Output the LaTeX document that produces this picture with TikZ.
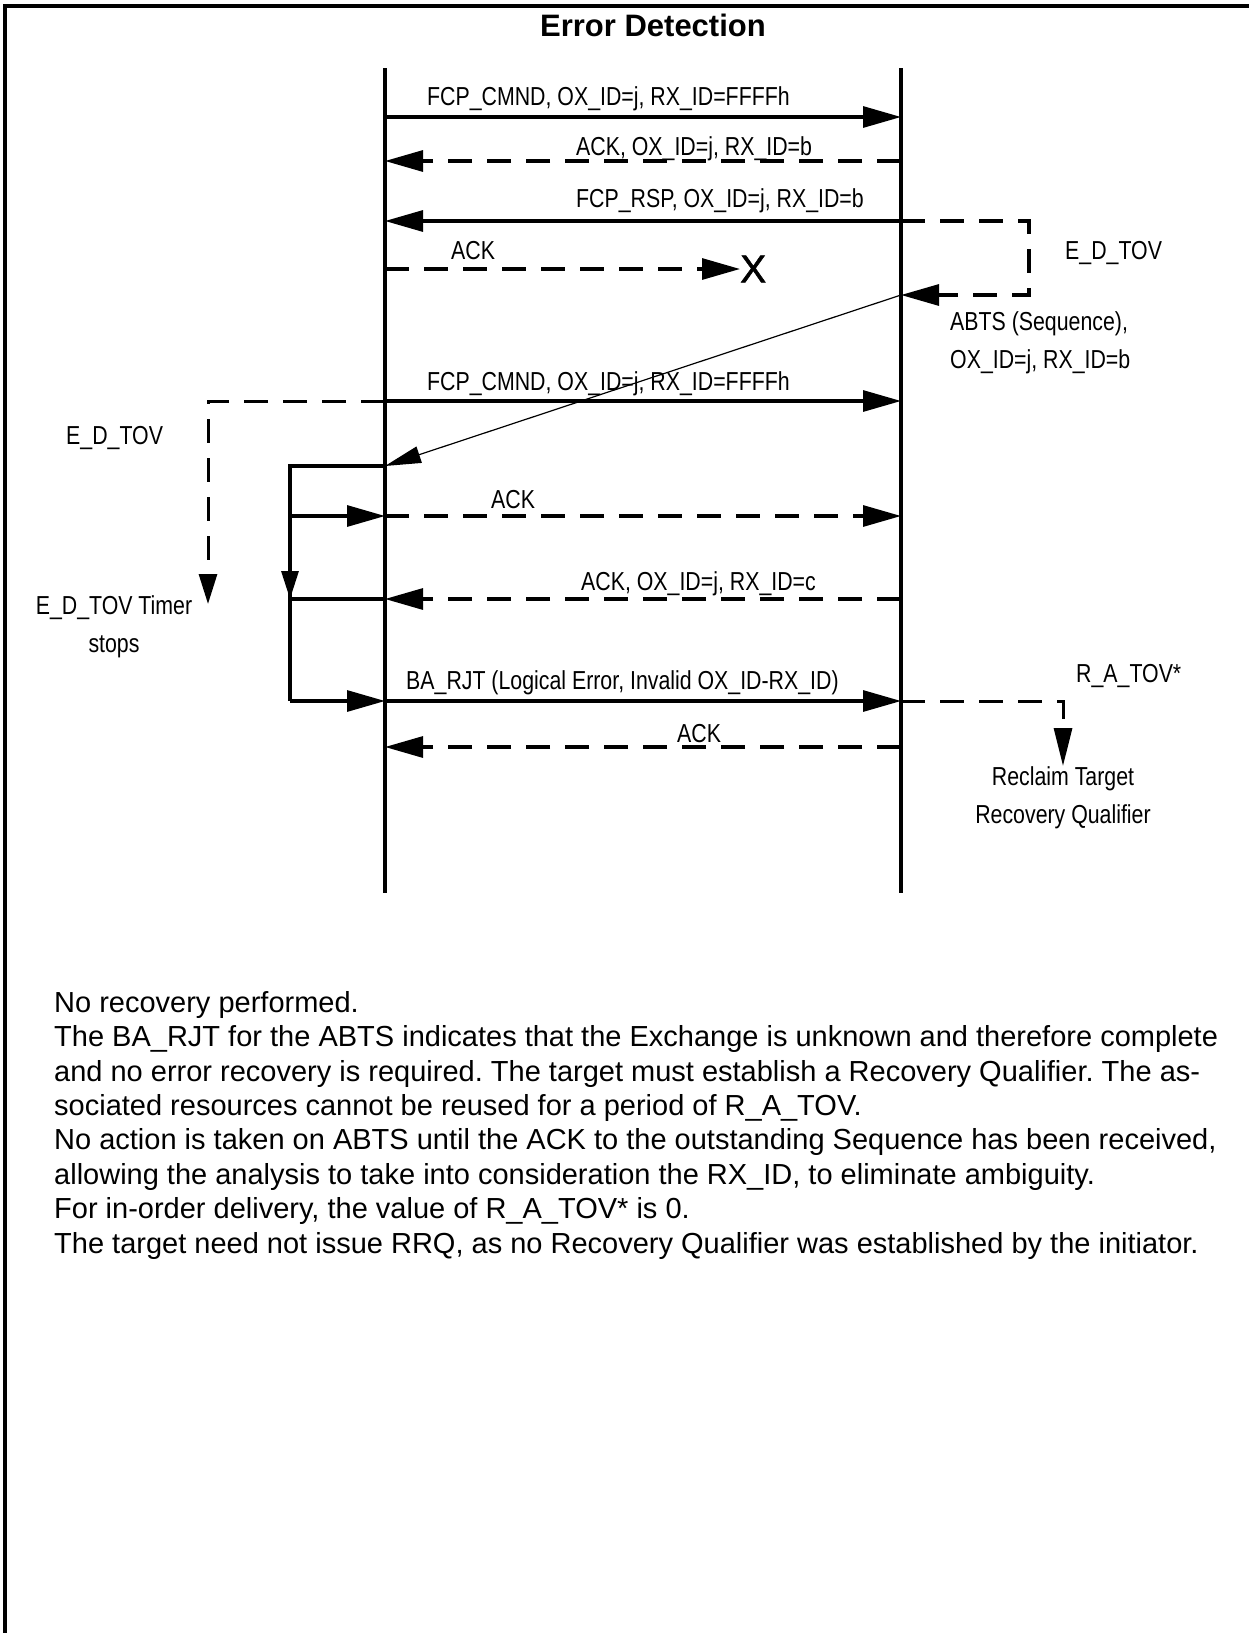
\documentclass[tikz,border=0pt]{standalone}
\usepackage{fontspec}
\setmainfont{Liberation Sans}
\newfontfamily\narrowsf[FakeStretch=0.82]{Liberation Sans}
\usepackage{tikz}
\usetikzlibrary{arrows.meta}
\frenchspacing

\begin{document}
\begin{tikzpicture}[
        x=1pt, y=-1pt,
        lifeline/.style={line width=3.1pt},
        msg/.style={line width=3.1pt, -{Triangle[length=38pt, width=21pt]}},
        ackmsg/.style={msg, dash pattern=on 24pt off 15pt},
        timer/.style={line width=3pt, dash pattern=on 24pt off 15pt, -{Triangle[length=32pt, width=18pt]}},
        lbl/.style={font=\narrowsf\fontsize{26}{38}\selectfont, inner sep=0pt, anchor=base west},
        note/.style={lbl, align=left, anchor=north west}
    ]
    \useasboundingbox (0,0) rectangle (1249,1633);

    % Cadre et titre
    \draw[line width=3.2pt] (5,1633) -- (5,6) -- (1249,6);
    \node[font=\bfseries\fontsize{31}{36}\selectfont, inner sep=0pt, anchor=base] (title) at (653,36) {Error Detection};

    % Lignes de vie : initiateur et cible
    \coordinate (ini-top) at (385,68);
    \coordinate (ini-bot) at (385,893);
    \coordinate (tgt-top) at (901,68);
    \coordinate (tgt-bot) at (901,893);
    \draw[lifeline] (ini-top) -- (ini-bot);
    \draw[lifeline] (tgt-top) -- (tgt-bot);

    % Points d'echange sur les deux lignes
    \foreach \n/\y in {cmd/117, ackb/161, rsp/221, ackx/269, cmd2/401, abts/466, ack/516, ackc/599, rjt/701, last/747}
        {\coordinate (i-\n) at (385,\y); \coordinate (t-\n) at (901,\y);}
    \coordinate (t-abts) at (901,295);

    % Premier echange
    \draw[msg] (i-cmd) -- (t-cmd);
    \node[lbl] (l-cmd) at (427,105) {FCP\_CMND, OX\_ID=j, RX\_ID=FFFFh};
    \draw[ackmsg] (t-ackb) -- (i-ackb);
    \node[lbl] (l-ackb) at (576,155) {ACK, OX\_ID=j, RX\_ID=b};
    \draw[msg] (t-rsp) -- (i-rsp);
    \node[lbl] (l-rsp) at (576,207) {FCP\_RSP, OX\_ID=j, RX\_ID=b};
    \node[font=\fontsize{39}{42}\selectfont, inner sep=0pt, anchor=west] (lost) at (740,269) {\addfontfeature{FakeBold=1.5}X};
    \draw[ackmsg] (i-ackx) -- (lost.west);
    \node[lbl] (l-ackx) at (451,259) {ACK};

    % Timer E_D_TOV cote cible, puis ABTS
    \coordinate (edtov-r) at (1029,221);
    \draw[ackmsg] (t-rsp) -- (edtov-r) |- (t-abts);
    \node[lbl] (l-edtov-r) at (1065,259) {E\_D\_TOV};
    \draw[line width=1.2pt, -{Triangle[length=36pt, width=17pt]}] (t-abts) -- (i-abts);
    \node[note] (l-abts) at (950,311) {ABTS (Sequence),\\OX\_ID=j, RX\_ID=b};

    % Nouvelle commande et timer cote initiateur
    \draw[msg] (i-cmd2) -- (t-cmd2);
    \node[lbl] (l-cmd2) at (427,390) {FCP\_CMND, OX\_ID=j, RX\_ID=FFFFh};
    \coordinate (edtov-l) at (208,604);
    \draw[timer, -{Triangle[length=30pt, width=18pt]}] (i-cmd2) -| (edtov-l);
    \node[lbl] (l-edtov-l) at (66,444) {E\_D\_TOV};
    \node[lbl, align=center, anchor=north] (stops) at (114,595) {E\_D\_TOV Timer\\stops};

    % Attente de l'ACK avant de traiter l'ABTS
    \coordinate (brk) at (290,466);
    \draw[lifeline] (i-abts) -- (brk) -- (brk |- i-rjt);
    \draw[msg] (brk |- i-ack) -- (i-ack);
    \draw[line width=3.1pt, -{Triangle[length=28pt, width=17pt]}] (brk |- i-ack) -- (brk |- i-ackc);
    \draw[lifeline] (brk |- i-ackc) -- (i-ackc);
    \draw[msg] (brk |- i-rjt) -- (i-rjt);

    % Fin de l'echange
    \draw[ackmsg] (i-ack) -- (t-ack);
    \node[lbl] (l-ack) at (491,508) {ACK};
    \draw[ackmsg] (t-ackc) -- (i-ackc);
    \node[lbl] (l-ackc) at (581,590) {ACK, OX\_ID=j, RX\_ID=c};
    \draw[msg] (i-rjt) -- (t-rjt);
    \node[lbl] (l-rjt) at (406,689) {BA\_RJT (Logical Error, Invalid OX\_ID-RX\_ID)};
    \draw[ackmsg] (t-last) -- (i-last);
    \node[lbl] (l-last) at (677,742) {ACK};

    % Timer R_A_TOV
    \node[lbl, align=center, anchor=north] (reclaim) at (1063,766) {Reclaim Target\\Recovery Qualifier};
    \draw[timer, -{Triangle[length=38pt, width=18pt]}] (t-rjt) -| (reclaim.north);
    \node[lbl] (l-ratov) at (1076,682) {R\_A\_TOV*};

    % Commentaire
    \node[font=\fontsize{29}{34.4}\selectfont, inner sep=0pt, anchor=north west, align=left] (remarks) at (54,991)
        {No recovery performed.\\
        The BA\_RJT for the ABTS indicates that the Exchange is unknown and therefore complete\\
        and no error recovery is required. The target must establish a Recovery Qualifier. The as-\\
        sociated resources cannot be reused for a period of R\_A\_TOV.\\
        No action is taken on ABTS until the ACK to the outstanding Sequence has been received,\\
        allowing the analysis to take into consideration the RX\_ID, to eliminate ambiguity.\\
        For in-order delivery, the value of R\_A\_TOV* is 0.\\
        The target need not issue RRQ, as no Recovery Qualifier was established by the initiator.};
\end{tikzpicture}
\end{document}
